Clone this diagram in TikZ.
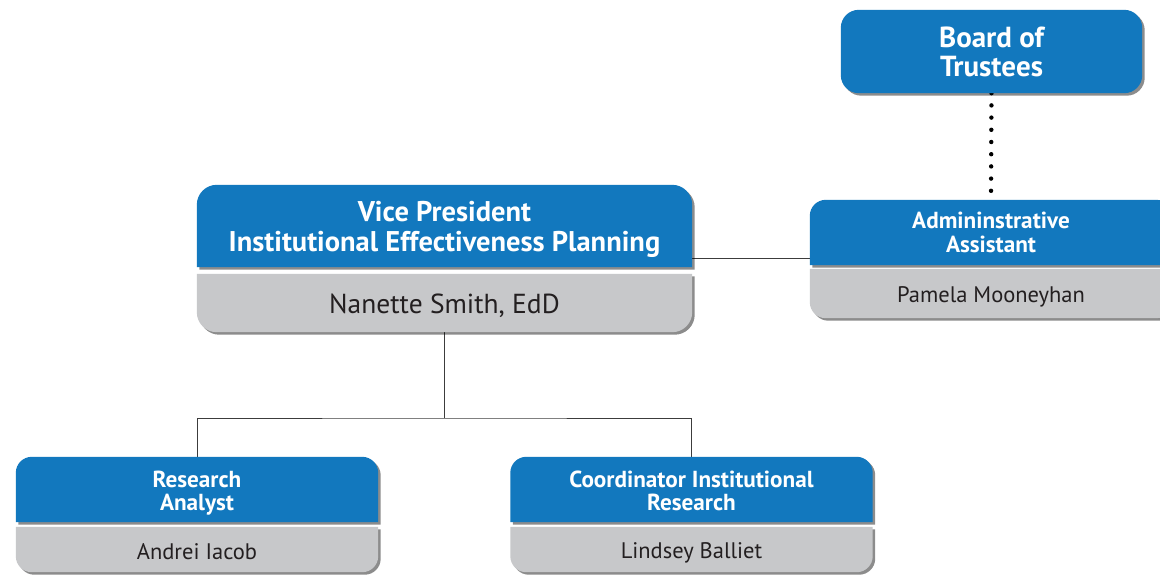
\documentclass[tikz,border=0pt]{standalone}
\usepackage{fontspec}
\setmainfont{PT Sans}
\usetikzlibrary{shadows,backgrounds}
\definecolor{cardblue}{RGB}{18,120,190}
\definecolor{cardgray}{RGB}{199,200,202}
\definecolor{nametext}{RGB}{35,31,32}
\definecolor{linegray}{RGB}{60,60,60}
\newcommand\toprounded[3]{%
  \path[#1] (#2.south west) -- ([yshift=-#3]#2.north west)
    arc[start angle=180,end angle=90,radius=#3] -- ([xshift=-#3]#2.north east)
    arc[start angle=90,end angle=0,radius=#3] -- (#2.south east) -- cycle;}
\newcommand\botrounded[3]{%
  \path[#1] (#2.north west) -- (#2.north east) -- ([yshift=#3]#2.south east)
    arc[start angle=0,end angle=-90,radius=#3] -- ([xshift=#3]#2.south west)
    arc[start angle=270,end angle=180,radius=#3] -- cycle;}
\tikzset{
  cardbox/.style={inner sep=0pt, minimum width=#1},
  titletext/.style={inner sep=0pt, align=center, text=white},
  nametextstyle/.style={inner sep=0pt, align=center, text=nametext},
  bluefill/.style={fill=cardblue, drop shadow={shadow xshift=2.5pt, shadow yshift=-2.5pt, opacity=0.45, fill=black}},
  grayfill/.style={fill=cardgray, drop shadow={shadow xshift=2.5pt, shadow yshift=-2.5pt, opacity=0.45, fill=black}},
  boardtitle/.style={font=\fontsize{29}{29}\selectfont\bfseries},
  bigtitle/.style={font=\fontsize{28.5}{30}\selectfont\bfseries},
  bigname/.style={font=\fontsize{27.5}{30}\selectfont},
  smalltitle/.style={font=\fontsize{23.2}{23.5}\selectfont\bfseries},
  smallname/.style={font=\fontsize{22.5}{24}\selectfont},
  conn/.style={draw=linegray, line width=1pt},
  dotline/.style={draw=black, line width=4.4pt, line cap=round, dash pattern=on 0pt off 12.2pt}
}
\begin{document}
\begin{tikzpicture}[x=1pt,y=1pt]
\clip (0,0) rectangle (1160,-574);
% card boxes
\node[cardbox=301pt, minimum height=83pt] (bot) at (991.5,-51.5) {};
\node[cardbox=495pt, minimum height=82pt] (vpt) at (444.5,-226) {};
\node[cardbox=495pt, minimum height=58pt] (vpn) at (444.5,-303) {};
\node[cardbox=362pt, minimum height=65pt] (admt) at (991,-232.5) {};
\node[cardbox=362pt, minimum height=49pt] (admn) at (991,-293.5) {};
\node[cardbox=362pt, minimum height=65pt] (rat) at (197,-489.5) {};
\node[cardbox=362pt, minimum height=45pt] (ran) at (197,-549.5) {};
\node[cardbox=362pt, minimum height=65pt] (cot) at (691.5,-489.5) {};
\node[cardbox=362pt, minimum height=45pt] (con) at (691.5,-549.5) {};
% texts
\node[titletext, boardtitle] (botx) at (bot.center) {Board of\\Trustees};
\node[titletext, bigtitle] (vptx) at ([yshift=-3.5pt]vpt.center) {Vice President\\Institutional Effectiveness Planning};
\node[nametextstyle, bigname] (vpnx) at ([yshift=-3pt]vpn.center) {Nanette Smith, EdD};
\node[titletext, smalltitle] (admtx) at (admt.center) {Admininstrative\\Assistant};
\node[nametextstyle, smallname] (admnx) at ([yshift=-3pt]admn.center) {Pamela Mooneyhan};
\node[titletext, smalltitle] (ratx) at ([yshift=-3.5pt]rat.center) {Research\\Analyst};
\node[nametextstyle, smallname] (ranx) at ([yshift=-2pt]ran.center) {Andrei Iacob};
\node[titletext, smalltitle] (cotx) at ([yshift=-1.5pt]cot.center) {Coordinator Institutional\\Research};
\node[nametextstyle, smallname] (conx) at ([yshift=-3pt]con.center) {Lindsey Balliet};
\coordinate (bus) at (444.5,-418);
\begin{scope}[on background layer]
  \fill[white] (0,0) rectangle (1160,-574);
  % connectors
  \draw[conn] ([yshift=9pt]vpt.south east) -- ([yshift=9pt]vpt.south east -| admt.west);
  \draw[conn] (vpn.south) -- (bus);
  \draw[conn] (rat.north) |- (bus) -| (cot.north);
  \draw[dotline] (bot.south) -- (admt.north);
  % card shapes
  \path[bluefill, rounded corners=18pt] (bot.south west) rectangle (bot.north east);
  \toprounded{bluefill}{vpt}{20pt}
  \botrounded{grayfill}{vpn}{20pt}
  \toprounded{bluefill}{admt}{16pt}
  \botrounded{grayfill}{admn}{16pt}
  \toprounded{bluefill}{rat}{16pt}
  \botrounded{grayfill}{ran}{16pt}
  \toprounded{bluefill}{cot}{16pt}
  \botrounded{grayfill}{con}{16pt}
\end{scope}
\end{tikzpicture}
\end{document}
